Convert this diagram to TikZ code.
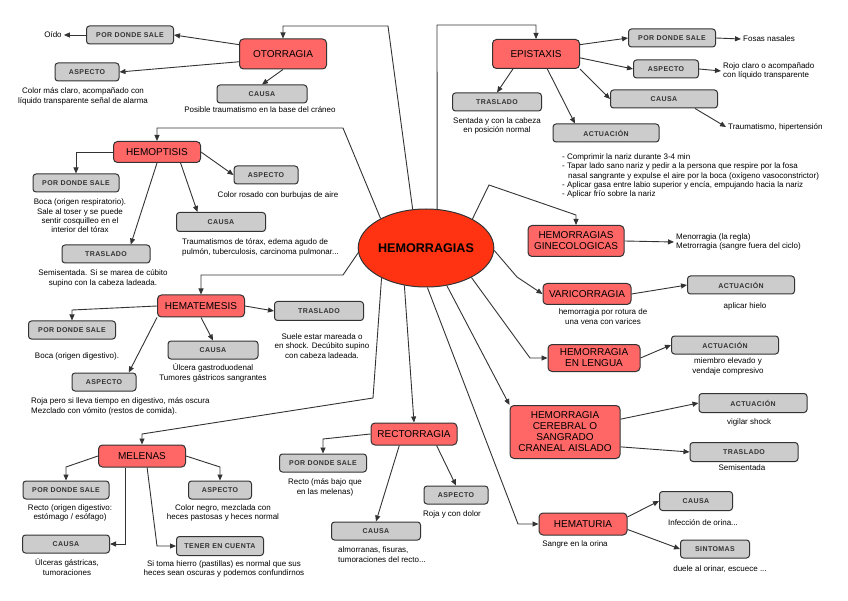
\documentclass[tikz,border=0pt]{standalone}
\usepackage{fontspec}
\setmainfont{Liberation Sans}
\usetikzlibrary{shapes.geometric,arrows.meta}
\definecolor{rojo}{HTML}{FF6666}
\definecolor{rojocentro}{HTML}{FF3311}
\definecolor{gris}{HTML}{CCCCCC}
\definecolor{borde}{HTML}{333333}
\begin{document}
\begin{tikzpicture}[x=1pt,y=-1pt,
  >={Triangle[length=6pt,width=5pt]},
  enlace/.style={->,draw=borde,line width=0.9pt},
  core/.style={ellipse,draw=borde,line width=1pt,fill=rojocentro,minimum width=126pt,minimum height=78pt,inner sep=0pt,font=\fontsize{12.6}{14}\selectfont\bfseries},
  tema/.style={draw=borde,line width=1pt,fill=rojo,rounded corners=4pt,minimum width=87pt,inner sep=1pt,align=center,font=\fontsize{10}{11}\selectfont},
  caja/.style={draw=borde,line width=1pt,fill=gris,rounded corners=3pt,minimum height=18pt,inner sep=1pt,text=borde,font=\fontsize{7}{8}\selectfont\bfseries\addfontfeatures{LetterSpace=6}},
  nota/.style={align=center,inner sep=2pt,font=\fontsize{8}{9.8}\selectfont}]
\fill[white] (0,0) rectangle (848,601);
\useasboundingbox (0,0) rectangle (848,601);

\node[core] (hem) at (426,248) {HEMORRAGIAS};

\node[tema, minimum height=30pt] (oto) at (283,54) {OTORRAGIA};
\node[caja, minimum width=87pt] (otoSale) at (130,35) {POR DONDE SALE};
\node[nota] (otoOido) at (53,35) {Oído};
\node[caja, minimum width=64pt] (otoAsp) at (87,72) {ASPECTO};
\node[nota] (otoAspTxt) at (83,96) {Color más claro, acompañado con\\líquido transparente señal de alarma};
\node[caja, minimum width=90pt] (otoCausa) at (262,94) {CAUSA};
\node[nota] (otoCausaTxt) at (260,110) {Posible traumatismo en la base del cráneo};

\node[tema, minimum height=29pt] (epi) at (536,54) {EPISTAXIS};
\node[caja, minimum width=87pt] (epiSale) at (672,38) {POR DONDE SALE};
\node[nota, anchor=west] (epiSaleTxt) at (741,39) {Fosas nasales};
\node[caja, minimum width=65pt] (epiAsp) at (666,69) {ASPECTO};
\node[nota, anchor=west, align=left] (epiAspTxt) at (721,71) {Rojo claro o acompañado\\con líquido transparente};
\node[caja, minimum width=107pt] (epiCausa) at (664,99) {CAUSA};
\node[nota, anchor=west] (epiCausaTxt) at (726,127) {Traumatismo, hipertensión};
\node[caja, minimum width=89pt] (epiTras) at (497,102) {TRASLADO};
\node[nota] (epiTrasTxt) at (497,126) {Sentada y con la cabeza\\en posición normal};
\node[caja, minimum width=106pt] (epiAct) at (606,133) {ACTUACIÓN};
\node[nota, anchor=west, align=left, font=\fontsize{8}{9.3}\selectfont] (epiActTxt) at (560,176) {- Comprimir la nariz durante 3-4 min\\- Tapar lado sano nariz y pedir a la persona que respire por la fosa\\\hspace*{6pt}nasal sangrante y expulse el aire por la boca (oxígeno vasoconstrictor)\\- Aplicar gasa entre labio superior y encía, empujando hacia la nariz\\- Aplicar frío sobre la nariz};

\node[tema, minimum height=21pt] (hemop) at (157,152) {HEMOPTISIS};
\node[caja, minimum width=86pt] (hpSale) at (76,183) {POR DONDE SALE};
\node[nota, font=\fontsize{8}{9.4}\selectfont] (hpSaleTxt) at (80,216) {Boca (origen respiratorio).\\Sale al toser y se puede\\sentir cosquilleo en el\\interior del tórax};
\node[caja, minimum width=64pt] (hpAsp) at (266,175) {ASPECTO};
\node[nota] (hpAspTxt) at (278,195) {Color rosado con burbujas de aire};
\node[caja, minimum width=89pt, minimum height=19pt] (hpCausa) at (221,222) {CAUSA};
\node[nota, anchor=west, align=left] (hpCausaTxt) at (180,247) {Traumatismos de tórax, edema agudo de\\pulmón, tuberculosis, carcinoma pulmonar...};
\node[caja, minimum width=88pt] (hpTras) at (106,254) {TRASLADO};
\node[nota] (hpTrasTxt) at (103,278) {Semisentada. Si se marea de cúbito\\supino con la cabeza ladeada.};

\node[tema, minimum height=22pt] (hemat) at (201,306) {HEMATEMESIS};
\node[caja, minimum width=87pt] (htSale) at (72,330) {POR DONDE SALE};
\node[nota] (htSaleTxt) at (77,356) {Boca (origen digestivo).};
\node[caja, minimum width=90pt] (htCausa) at (213,350) {CAUSA};
\node[nota] (htCausaTxt) at (213,373) {Úlcera gastroduodenal\\Tumores gástricos sangrantes};
\node[caja, minimum width=64pt] (htAsp) at (104,382) {ASPECTO};
\node[nota, anchor=west, align=left, font=\fontsize{8}{10.7}\selectfont] (htAspTxt) at (29,406.5) {Roja pero si lleva tiempo en digestivo, más oscura\\Mezclado con vómito (restos de comida).};
\node[caja, minimum width=89pt, minimum height=19pt] (htTras) at (319,311) {TRASLADO};
\node[nota, font=\fontsize{8}{9.2}\selectfont] (htTrasTxt) at (322,346) {Suele estar mareada o\\en shock. Decúbito supino\\con cabeza ladeada.};

\node[tema, minimum height=22pt] (mel) at (142,456) {MELENAS};
\node[caja, minimum width=86pt] (melSale) at (66,490) {POR DONDE SALE};
\node[nota] (melSaleTxt) at (70,513) {Recto (origen digestivo:\\estómago / esófago)};
\node[caja, minimum width=87pt] (melCausa) at (66,544) {CAUSA};
\node[nota] (melCausaTxt) at (67,567) {Úlceras gástricas,\\tumoraciones};
\node[caja, minimum width=63pt] (melAsp) at (220,490) {ASPECTO};
\node[nota] (melAspTxt) at (223,513) {Color negro, mezclada con\\heces pastosas y heces normal};
\node[caja, minimum width=87pt, minimum height=19pt] (melTener) at (220,546) {TENER EN CUENTA};
\node[nota] (melTenerTxt) at (224,569) {Si toma hierro (pastillas) es normal que sus\\heces sean oscuras y podemos confundirnos};

\node[tema, minimum height=22pt, minimum width=86pt] (rect) at (414,434) {RECTORRAGIA};
\node[caja, minimum width=87pt] (reSale) at (323,463) {POR DONDE SALE};
\node[nota] (reSaleTxt) at (325,487) {Recto (más bajo que\\en las melenas)};
\node[caja, minimum width=64pt] (reAsp) at (456,495) {ASPECTO};
\node[nota] (reAspTxt) at (452,514) {Roja y con dolor};
\node[caja, minimum width=89pt] (reCausa) at (376,531) {CAUSA};
\node[nota, anchor=west, align=left] (reCausaTxt) at (336,555) {almorranas, fisuras,\\tumoraciones del recto...};

\node[tema, minimum width=96pt, minimum height=31pt] (gine) at (576,241) {HEMORRAGIAS\\GINECOLOGICAS};
\node[nota, anchor=west, align=left, font=\fontsize{8}{9.3}\selectfont] (gineTxt) at (674,242) {Menorragia (la regla)\\Metrorragia (sangre fuera del ciclo)};

\node[tema, minimum width=88pt, minimum height=21pt] (vari) at (587,294) {VARICORRAGIA};
\node[nota] (variTxt) at (603,317) {hemorragia por rotura de\\una vena con varices};
\node[caja, minimum width=107pt] (vaAct) at (741,285) {ACTUACIÓN};
\node[nota] (vaActTxt) at (745,306) {aplicar hielo};

\node[tema, minimum width=92pt, minimum height=27pt] (leng) at (594,358) {HEMORRAGIA\\EN LENGUA};
\node[caja, minimum width=107pt] (leAct) at (725,345) {ACTUACIÓN};
\node[nota] (leActTxt) at (728,366.5) {miembro elevado y\\vendaje compresivo};

\node[tema, minimum width=110pt, minimum height=53pt] (cere) at (565,432) {HEMORRAGIA\\CEREBRAL O\\SANGRADO\\CRANEAL AISLADO};
\node[caja, minimum width=108pt, minimum height=19pt] (ceAct) at (753,403) {ACTUACIÓN};
\node[nota] (ceActTxt) at (749,422) {vigilar shock};
\node[caja, minimum width=108pt, minimum height=19pt] (ceTras) at (744,452) {TRASLADO};
\node[nota] (ceTrasTxt) at (742,468) {Semisentada};

\node[tema, minimum width=88pt, minimum height=22pt] (hemt) at (583,524) {HEMATURIA};
\node[nota] (hemtTxt) at (575,544) {Sangre en la orina};
\node[caja, minimum width=73pt, minimum height=19pt] (htuCausa) at (696,501) {CAUSA};
\node[nota] (htuCausaTxt) at (703,523) {Infección de orina...};
\node[caja, minimum width=69pt] (htuSint) at (715,549) {SINTOMAS};
\node[nota] (htuSintTxt) at (720,569) {duele al orinar, escuece ...};

\draw[enlace] (hem.109) -- (388,26) -| (oto.north);
\draw[enlace] (hem.74) -- (437,25) -| (epi.north);
\draw[enlace] (hem.147) -- (343,128) -| (hemop.north);
\draw[enlace] (hem.184) -- (343,275) -| (hemat.north);
\draw[enlace] (hem.214) -- (373,398) -- (142,434) -- (mel.north);
\draw[enlace] (hem.240) -- (rect.north);
\draw[enlace] (hem.-88) -- (518,524) -- (hemt.west);
\draw[enlace] (hem.-61) -- (cere.north west);
\draw[enlace] (hem.-33) -- (530,358) -- (leng.west);
\draw[enlace] (hem.-2) -- (517,277) -- (vari.west);
\draw[enlace] (hem.32) -- (489,185) -- (576,215) -- (gine.north);

\draw[enlace] (oto.168) -- (otoSale.east);
\draw[enlace] (otoSale.west) -- (otoOido.east);
\draw[enlace] (oto.190) -- (otoAsp.east);
\draw[enlace] (oto.south) -- (otoCausa.north);

\draw[enlace] (epi.12) -- (epiSale.west);
\draw[enlace] (epiSale.east) -- (epiSaleTxt.west);
\draw[enlace] (epi.-5) -- (epiAsp.west);
\draw[enlace] (epiAsp.east) -- (epiAspTxt.west);
\draw[enlace] (epi.south east) -- (epiCausa.west);
\draw[enlace] (epiCausa.-17) -- (epiCausaTxt.west);
\draw[enlace] (epi.213) -- (epiTras.north);
\draw[enlace] (epi.-53) -- (epiAct.163);

\draw[enlace] (hemop.west) -| (hpSale.north);
\draw[enlace] (hemop.east) -- (hpAsp.west);
\draw[enlace] (hemop.-25) -- (hpCausa.157);
\draw[enlace] (hemop.south) -- (hpTras.21);

\draw[enlace] (hemat.west) -- (72,310) -- (htSale.north);
\draw[enlace] (hemat.south) -- (htCausa.north);
\draw[enlace] (hemat.south west) -- (htAsp.21);
\draw[enlace] (hemat.east) -- (htTras.west);

\draw[enlace] (mel.west) -- (66,467) -- (melSale.north);
\draw[enlace] (mel.east) -- (220,467) -- (melAsp.north);
\draw[enlace] (mel.215) |- (melCausa.east);
\draw[enlace] (mel.-66) -- (157,546) -- (melTener.west);

\draw[enlace] (rect.west) -- (323,439) -- (reSale.north);
\draw[enlace] (rect.218) -- (reCausa.north);
\draw[enlace] (rect.-27) -- (reAsp.north);

\draw[enlace] (gine.east) -- (gineTxt.west);
\draw[enlace] (vari.east) -- (vaAct.west);
\draw[enlace] (leng.east) -- (leAct.west);
\draw[enlace] (cere.13) -- (ceAct.west);
\draw[enlace] (cere.-15) -- (ceTras.west);
\draw[enlace] (hemt.9) -- (htuCausa.west);
\draw[enlace] (hemt.-7) -- (htuSint.west);
\end{tikzpicture}
\end{document}
